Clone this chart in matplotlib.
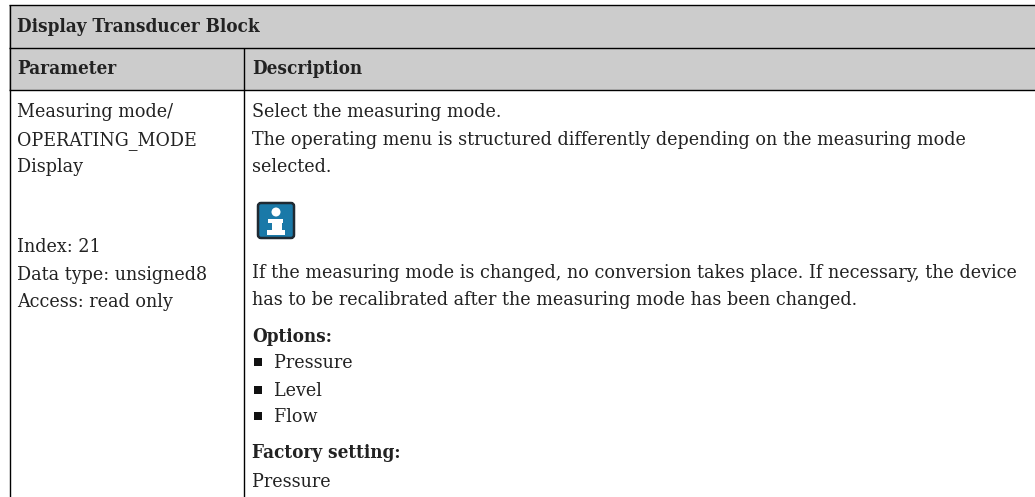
import matplotlib.pyplot as plt
from matplotlib.patches import FancyBboxPatch, Rectangle, Circle

##################################
# DEFINITIONS
##################################

title = "Display Transducer Block"
col_headers = ["Parameter", "Description"]
param_lines = ["Measuring mode/", "OPERATING_MODE", "Display"]
param_info = ["Index: 21", "Data type: unsigned8", "Access: read only"]
desc_top = ["Select the measuring mode.",
            "The operating menu is structured differently depending on the measuring mode",
            "selected."]
desc_note = ["If the measuring mode is changed, no conversion takes place. If necessary, the device",
             "has to be recalibrated after the measuring mode has been changed."]
options_label = "Options:"
options = ["Pressure", "Level", "Flow"]
factory_label = "Factory setting:"
factory_value = "Pressure"

font = "DejaVu Serif"
size = 14.0
size_bold = 13.5
grey = "#cccccc"
text_col = "#222222"

##################################
# PLOTTING
##################################

fig = plt.figure(figsize=(10.35, 4.97), dpi=100)
ax = fig.add_axes([0, 0, 1, 1])
ax.set_xlim(0, 1035)
ax.set_ylim(497, 0)
ax.axis("off")

# header bands
ax.add_patch(Rectangle((9, 5), 1026, 85, color=grey, lw=0))

# table rules
for y in [5, 48, 90]:
    ax.plot([9, 1035], [y, y], color="k", lw=1, solid_capstyle="butt")
ax.plot([9.5, 9.5], [5, 497], color="k", lw=1, solid_capstyle="butt")
ax.plot([243.5, 243.5], [48, 497], color="k", lw=1, solid_capstyle="butt")


def put(x, y, s, bold=False):
    ax.text(x, y, s, family=font, fontsize=size_bold if bold else size, color=text_col,
            va="baseline", weight="bold" if bold else "normal", stretch="condensed")


put(17, 32, title, True)
put(17, 74, col_headers[0], True)
put(252, 74, col_headers[1], True)

for y, s in zip([117, 145, 172], param_lines):
    put(17, y, s)
for y, s in zip([252, 280, 307], param_info):
    put(17, y, s)
for y, s in zip([117, 145, 172], desc_top):
    put(252, y, s)
for y, s in zip([278, 305], desc_note):
    put(252, y, s)

put(252, 342, options_label, True)
for y, s in zip([368, 396, 422], options):
    ax.add_patch(Rectangle((254, y - 10), 8, 8, color="#111111", lw=0))
    put(274, y, s)
put(252, 458, factory_label, True)
put(252, 487, factory_value)

# info icon
ax.add_patch(FancyBboxPatch((258, 203), 36, 35, boxstyle="round,pad=0,rounding_size=3",
                            fc="#1a79a8", ec="#1f2a33", lw=1.8))
ax.add_patch(Circle((276, 212), 4.5, color="white", lw=0))
ax.add_patch(Rectangle((268, 219), 15, 4, color="white", lw=0))
ax.add_patch(Rectangle((272, 219), 10, 14, color="white", lw=0))
ax.add_patch(Rectangle((267, 230), 18, 5, color="white", lw=0))

plt.savefig("out.png", dpi=100)
